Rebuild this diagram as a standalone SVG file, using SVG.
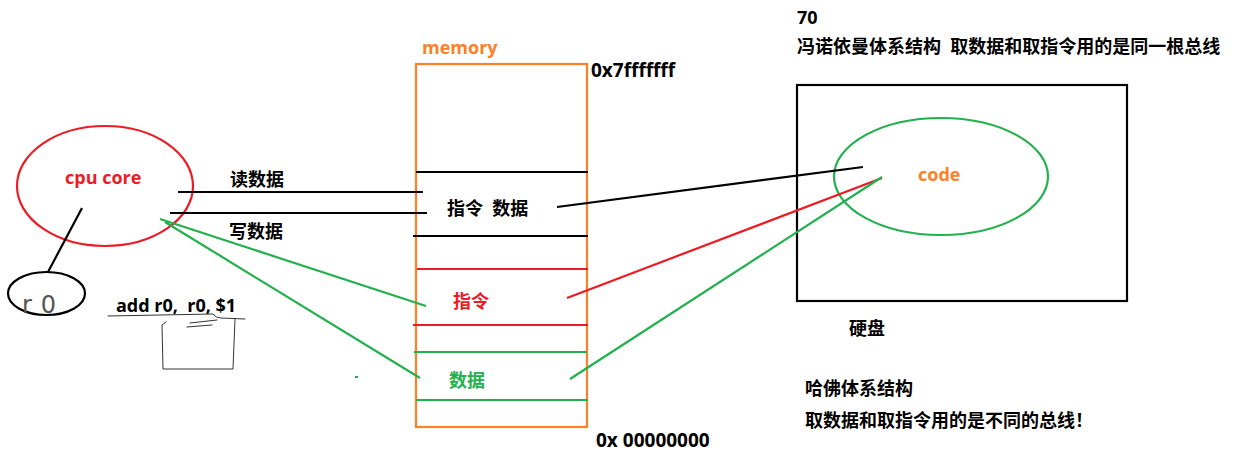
<svg xmlns="http://www.w3.org/2000/svg" width="1235" height="460" viewBox="0 0 1235 460">
<style>
text{font-family:"Open Sans","Noto Sans CJK SC",sans-serif;font-weight:bold;font-size:18px;white-space:pre}
.k{fill:#000}
.r{fill:#ED1C24}
.g{fill:#22B14C}
.o{fill:#FF7F27}
.zh{font-size:18px}
.big{font-size:19px}
.sk{fill:none;stroke-width:2.2}
.hw{fill:none;stroke:#333;stroke-width:1;stroke-linecap:round;stroke-linejoin:round}
</style>
<rect width="1235" height="460" fill="#fff"/>

<g id="cpu">
<ellipse cx="105" cy="186" rx="88" ry="60" class="sk" stroke="#ED1C24" stroke-width="2.5"/>
<text x="65" y="184" class="r">cpu core</text>
</g>

<g id="r0">
<ellipse cx="46.5" cy="293.5" rx="38.5" ry="21.5" class="sk" stroke="#000" stroke-width="2.5"/>
<text x="22" y="313" style="font-family:'DejaVu Sans',sans-serif;font-weight:normal;font-size:24px;fill:#555;letter-spacing:9px">r0</text>
</g>

<g id="instr">
<text x="116" y="312" class="k">add r0,  r0, $1</text>
<path class="hw" d="M108 316 L213 314 Q216 318 221 318 L245 319"/>
<path class="hw" d="M235 319 L233 369 L163 369 L162 325 L166 322"/>
<path class="hw" d="M187 327 L212 325 M190 323 L217 320"/>
</g>

<g id="memory">
<text x="422" y="54" class="o">memory</text>
<rect x="416" y="64" width="171" height="363" class="sk" stroke="#FF7F27" stroke-width="2.5"/>
<text x="591" y="77" class="k big">0x7fffffff</text>
<text x="596" y="447" class="k big">0x 00000000</text>
<line x1="416" y1="172" x2="588" y2="172" class="sk" stroke="#000"/>
<line x1="413" y1="236" x2="588" y2="236" class="sk" stroke="#000"/>
<text x="447" y="215" class="k">指令  数据</text>
<line x1="417" y1="269" x2="588" y2="269" class="sk" stroke="#ED1C24"/>
<line x1="413" y1="325" x2="588" y2="325" class="sk" stroke="#ED1C24"/>
<text x="453" y="308" class="r">指令</text>
<line x1="414" y1="352" x2="587" y2="352" class="sk" stroke="#22B14C"/>
<line x1="416" y1="400" x2="588" y2="400" class="sk" stroke="#22B14C"/>
<text x="449" y="387" class="g">数据</text>
</g>

<g id="disk">
<rect x="797" y="85" width="330" height="216" class="sk" stroke="#000" stroke-width="2.5"/>
<ellipse cx="941" cy="176.5" rx="107" ry="58.5" class="sk" stroke="#22B14C" stroke-width="2.5"/>
<text x="918" y="181" class="o">code</text>
<text x="849" y="335" class="k zh">硬盘</text>
</g>

<g id="notes">
<text x="797" y="24" class="k">70</text>
<text x="797" y="53" class="k zh">冯诺依曼体系结构  取数据和取指令用的是同一根总线</text>
<text x="805" y="395" class="k zh">哈佛体系结构</text>
<text x="805" y="427" class="k zh">取数据和取指令用的是不同的总线！</text>
</g>

<g id="connectors">
<line x1="82" y1="208" x2="48" y2="272" class="sk" stroke="#000"/>
<line x1="178" y1="192" x2="423" y2="192" class="sk" stroke="#000"/>
<line x1="170" y1="213" x2="427" y2="213" class="sk" stroke="#000"/>
<text x="230" y="186" class="k">读数据</text>
<text x="229" y="238" class="k">写数据</text>
<line x1="160" y1="219" x2="426" y2="306" class="sk" stroke="#22B14C"/>
<line x1="165" y1="222" x2="420" y2="378" class="sk" stroke="#22B14C"/>
<line x1="557" y1="207" x2="863" y2="167" class="sk" stroke="#000"/>
<line x1="567" y1="298" x2="882" y2="178" class="sk" stroke="#ED1C24"/>
<line x1="570" y1="379" x2="882" y2="177" class="sk" stroke="#22B14C"/>
<rect x="355" y="376" width="3" height="2" fill="#22B14C"/>
</g>
</svg>
